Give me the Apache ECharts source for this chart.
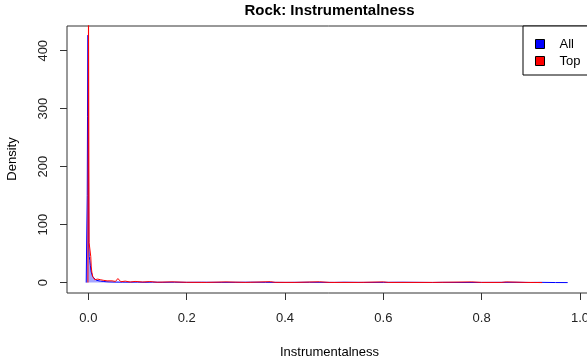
<!DOCTYPE html>
<html>
<head>
<meta charset="utf-8">
<script src="https://cdn.jsdelivr.net/npm/echarts@6/dist/echarts.min.js"></script>
<style>
    html, body { margin: 0; padding: 0; background: #fff; overflow: hidden; }
    /* the plot box runs a few pixels past the right edge of the window, as in the original */
    #chart { width: 592px; height: 362px; }
</style>
</head>
<body>
<div id="chart"></div>
<script>
// density estimate, all rock tracks
const allX = [-0.0045, -0.003, -0.0024, -0.0018, -0.0008, -0.0002, 0.0008, 0.0016, 0.003, 0.004, 0.005, 0.007, 0.009, 0.012, 0.016, 0.02, 0.025, 0.03, 0.036, 0.042, 0.05, 0.058, 0.07, 0.085, 0.1, 0.115, 0.13, 0.15, 0.175, 0.2, 0.23, 0.27, 0.3, 0.33, 0.36, 0.4, 0.45, 0.5, 0.52, 0.56, 0.6, 0.64, 0.7, 0.72, 0.76, 0.8, 0.87, 0.9, 0.92, 0.95, 0.975]
const allY = [0, 0, 150, 287, 427, 427, 68, 45, 38, 30, 21, 14, 10, 7, 4, 3, 2.5, 2, 1.5, 1.2, 1, 0.9, 0.8, 0.7, 0.9, 0.5, 0.8, 0.5, 0.7, 0.4, 0.6, 0.4, 0.5, 0.7, 0.5, 0.3, 0.6, 0.3, 0.6, 0.3, 0.4, 0.6, 0.2, 0.4, 0.2, 0.3, 0.5, 0.2, 0.4, 0.1, 0]
// density estimate, top tracks
const topX = [-0.001, 0.0002, 0.0008, 0.0014, 0.002, 0.0035, 0.0048, 0.0058, 0.007, 0.009, 0.011, 0.013, 0.015, 0.017, 0.019, 0.021, 0.024, 0.027, 0.03, 0.034, 0.038, 0.042, 0.048, 0.055, 0.06, 0.066, 0.075, 0.085, 0.095, 0.11, 0.125, 0.14, 0.17, 0.2, 0.24, 0.28, 0.32, 0.37, 0.38, 0.42, 0.47, 0.49, 0.55, 0.6, 0.61, 0.7, 0.78, 0.8, 0.84, 0.85, 0.89, 0.91, 0.923]
const topY = [0, 480, 480, 69, 68, 68, 45, 27, 18, 10, 7, 5, 7, 4, 6, 3, 5, 2, 4, 2, 3, 1.5, 3, 2, 7, 1.5, 2.5, 1, 2, 1, 1.8, 0.6, 1.3, 0.5, 0.3, 1.2, 0.3, 1.6, 0.4, 0.3, 1.4, 0.3, 0.3, 1.2, 0.3, 0.3, 1.2, 0.3, 0.3, 1.2, 0.3, 0.2, 0]

const xTicks = [0, 0.2, 0.4, 0.6, 0.8, 1.0]
const yTicks = [0, 100, 200, 300, 400]

const FONT = 'Liberation Sans, Arial, sans-serif'

let zip = (xs, ys) => xs.map((x, i) => [x, ys[i]])

let chart = echarts.init(document.getElementById('chart'), null, { renderer: 'canvas' })

let option = {
    animation: false,
    backgroundColor: '#fff',
    grid: {
        left: 67,
        top: 26,
        right: 0,
        bottom: 69,
        show: true,
        borderColor: '#333',
        borderWidth: 1
    },
    legend: {
        orient: 'vertical',
        left: 523,
        top: 26,
        padding: [11, 40, 7, 12],
        itemWidth: 9,
        itemHeight: 9,
        itemGap: 3,
        backgroundColor: '#fff',
        borderColor: '#000',
        borderWidth: 1,
        borderRadius: 0,
        itemStyle: {
            borderColor: '#000',
            borderWidth: 1
        },
        textStyle: {
            fontFamily: FONT,
            fontSize: 13,
            lineHeight: 14,
            color: '#000',
            padding: [0, 0, 0, 10]
        },
        data: [
            { name: 'All', icon: 'rect' },
            { name: 'Top', icon: 'rect' }
        ]
    },
    xAxis: {
        type: 'value',
        min: -0.04354,
        max: 1.0197,
        axisLine: { show: false, onZero: false },
        splitLine: { show: false },
        axisTick: {
            show: true,
            length: 7,
            lineStyle: { color: '#333' },
            customValues: xTicks
        },
        axisLabel: {
            margin: 19,
            fontFamily: FONT,
            fontSize: 13,
            color: '#222',
            customValues: xTicks,
            formatter: v => v.toFixed(1)
        }
    },
    yAxis: {
        type: 'value',
        min: -17.96,
        max: 442.7,
        axisLine: { show: false, onZero: false },
        splitLine: { show: false },
        axisTick: {
            show: true,
            length: 7,
            lineStyle: { color: '#333' },
            customValues: yTicks
        },
        axisLabel: {
            rotate: 90,
            margin: 17,
            fontFamily: FONT,
            fontSize: 13,
            color: '#222',
            customValues: yTicks
        }
    },
    graphic: [
        {
            type: 'text',
            x: 329.5,
            y: 11,
            style: {
                text: 'Rock: Instrumentalness',
                font: 'bold 15px ' + FONT,
                fill: '#000',
                textAlign: 'center',
                textVerticalAlign: 'middle'
            }
        },
        {
            type: 'text',
            x: 329.5,
            y: 352,
            style: {
                text: 'Instrumentalness',
                font: '13px ' + FONT,
                fill: '#000',
                textAlign: 'center',
                textVerticalAlign: 'middle'
            }
        },
        {
            type: 'text',
            x: 12,
            y: 159,
            rotation: Math.PI / 2,
            style: {
                text: 'Density',
                font: '13px ' + FONT,
                fill: '#000',
                textAlign: 'center',
                textVerticalAlign: 'middle'
            }
        }
    ],
    series: [
        {
            name: 'All',
            type: 'line',
            data: zip(allX, allY),
            showSymbol: false,
            symbol: 'none',
            clip: true,
            itemStyle: { color: '#0000ff' },
            lineStyle: { color: '#0000ff', width: 1 },
            areaStyle: { color: 'rgba(0, 0, 255, 0.5)', origin: 0 }
        },
        {
            name: 'Top',
            type: 'line',
            data: zip(topX, topY),
            showSymbol: false,
            symbol: 'none',
            clip: true,
            itemStyle: { color: '#ff0000' },
            lineStyle: { color: '#ff0000', width: 1 }
        }
    ]
}

chart.setOption(option)
</script>
</body>
</html>
